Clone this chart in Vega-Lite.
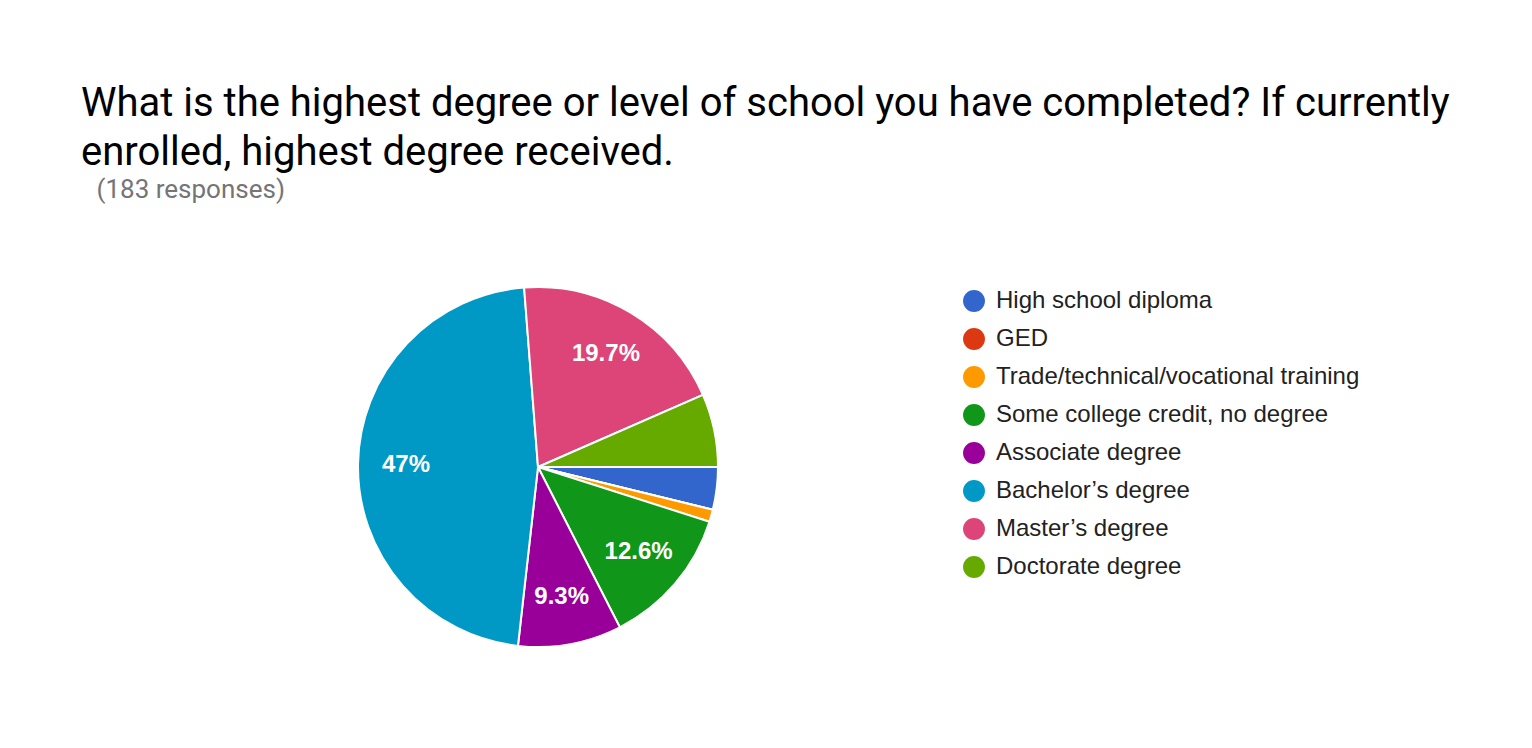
{
  "$schema": "https://vega.github.io/schema/vega-lite/v6.json",
  "width": 1076,
  "height": 534,
  "autosize": {"type": "none"},
  "padding": {"left": 0, "top": 200, "right": 456, "bottom": 14},
  "background": "#ffffff",
  "config": {"view": {"stroke": null}},
  "title": {
    "text": ["What is the highest degree or level of school you have completed? If currently", "enrolled, highest degree received."],
    "subtitle": "\u200b\u00a0\u00a0\u200a(183 responses)",
    "anchor": "start",
    "frame": "group",
    "orient": "top",
    "dx": 81,
    "offset": -3,
    "font": "Roboto",
    "fontSize": 40,
    "fontWeight": "normal",
    "color": "#000000",
    "lineHeight": 49,
    "limit": 1500,
    "subtitleFont": "Roboto",
    "subtitleFontSize": 26,
    "subtitleColor": "#757575",
    "subtitlePadding": 4
  },
  "data": {
    "values": [
      {"idx": 1, "degree": "High school diploma", "count": 7, "label": ""},
      {"idx": 2, "degree": "GED", "count": 0, "label": ""},
      {"idx": 3, "degree": "Trade/technical/vocational training", "count": 2, "label": ""},
      {"idx": 4, "degree": "Some college credit, no degree", "count": 23, "label": "12.6%"},
      {"idx": 5, "degree": "Associate degree", "count": 17, "label": "9.3%"},
      {"idx": 6, "degree": "Bachelor’s degree", "count": 86, "label": "47%"},
      {"idx": 7, "degree": "Master’s degree", "count": 36, "label": "19.7%"},
      {"idx": 8, "degree": "Doctorate degree", "count": 12, "label": ""}
    ]
  },
  "encoding": {
    "theta": {"field": "count", "type": "quantitative", "stack": true, "scale": {"range": [1.5707963, 7.8539816]}},
    "order": {"field": "idx", "type": "quantitative", "sort": "ascending"},
    "color": {
      "field": "degree",
      "type": "nominal",
      "sort": null,
      "scale": {
        "domain": ["High school diploma", "GED", "Trade/technical/vocational training", "Some college credit, no degree", "Associate degree", "Bachelor’s degree", "Master’s degree", "Doctorate degree"],
        "range": ["#3366cc", "#dc3912", "#ff9900", "#109618", "#990099", "#0099c6", "#dd4477", "#66aa00"]
      },
      "legend": {
        "title": null,
        "orient": "none",
        "legendX": 962,
        "legendY": 89,
        "padding": 0,
        "symbolType": "circle",
        "symbolSize": 480,
        "symbolStrokeWidth": 0,
        "labelFont": "Liberation Sans",
        "labelFontSize": 24,
        "labelColor": "#222222",
        "labelOffset": 10,
        "labelLimit": 600,
        "rowPadding": 14
      }
    }
  },
  "layer": [
    {
      "mark": {"type": "arc", "outerRadius": 180, "stroke": "#ffffff", "strokeWidth": 2}
    },
    {
      "mark": {"type": "text", "radius": 132, "font": "Liberation Sans", "fontSize": 24, "fontWeight": "bold", "fill": "#ffffff", "align": "center", "baseline": "middle"},
      "encoding": {
        "text": {"field": "label", "type": "nominal"},
        "color": {"value": "#ffffff"}
      }
    }
  ]
}
